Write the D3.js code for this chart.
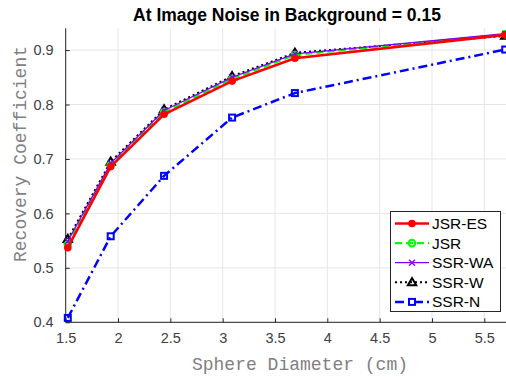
<!DOCTYPE html>
<html>
<head>
<meta charset="utf-8">
<script src="https://cdn.jsdelivr.net/npm/d3@7"></script>
<style>
  html, body { margin: 0; padding: 0; background: #fff; }
  svg { display: block; }
</style>
</head>
<body>
<svg id="chart" width="506" height="377"></svg>
<script>
// Sphere diameters (cm) and recovery coefficients per reconstruction method
const diameters = [1.52, 1.93, 2.44, 3.09, 3.69, 5.7];
const jsrEs = [0.537, 0.686, 0.782, 0.843, 0.885, 0.928];
const jsr   = [0.543, 0.689, 0.786, 0.847, 0.891, 0.929];
const ssrWa = [0.549, 0.692, 0.789, 0.850, 0.893, 0.930];
const ssrW  = [0.553, 0.695, 0.791, 0.852, 0.895, 0.926];
const ssrN  = [0.408, 0.558, 0.669, 0.776, 0.821, 0.901];
const xTicks = [1.5, 2, 2.5, 3, 3.5, 4, 4.5, 5, 5.5];
const yTicks = [0.4, 0.5, 0.6, 0.7, 0.8, 0.9];
const seriesNames = ["JSR-ES", "JSR", "SSR-WA", "SSR-W", "SSR-N"];

const series = [
  { name: "SSR-N",  values: ssrN,  color: "#0000ff", width: 2.5, dash: "9,4,2,4", marker: "square" },
  { name: "SSR-W",  values: ssrW,  color: "#000000", width: 2,   dash: "2,3",     marker: "triangle" },
  { name: "JSR",    values: jsr,   color: "#00ff00", width: 2.2, dash: "7,4",     marker: "circle" },
  { name: "SSR-WA", values: ssrWa, color: "#8000ff", width: 1.3, dash: null,      marker: "cross" },
  { name: "JSR-ES", values: jsrEs, color: "#ff0000", width: 2.6, dash: null,      marker: "dot" }
];

const svg = d3.select("#chart");
const plotLeft = 65.7, plotTop = 28.3, plotBottom = 322.3;

const x = d3.scaleLinear().domain([1.5, 5.5]).range([plotLeft, 484.3]);
const y = d3.scaleLinear().domain([0.4, 0.94]).range([plotBottom, plotTop]);

// grid
const grid = svg.append("g").attr("stroke", "#e6e6e6").attr("stroke-width", 1);
xTicks.forEach(t => grid.append("line").attr("x1", x(t)).attr("x2", x(t)).attr("y1", plotTop).attr("y2", plotBottom));
yTicks.forEach(t => grid.append("line").attr("x1", plotLeft).attr("x2", 506).attr("y1", y(t)).attr("y2", y(t)));

// axes with inward ticks
const xAxis = d3.axisBottom(x).tickValues(xTicks).tickSize(-4).tickPadding(10).tickFormat(d3.format("~g"));
const yAxis = d3.axisLeft(y).tickValues(yTicks).tickSize(-4).tickPadding(12).tickFormat(d3.format(".1f"));

const gx = svg.append("g").attr("transform", `translate(0,${plotBottom})`).call(xAxis);
gx.select(".domain").attr("d", `M${plotLeft},0H506`);
const gy = svg.append("g").attr("transform", `translate(${plotLeft},0)`).call(yAxis);
gy.select(".domain").attr("d", `M0,${plotTop}V${plotBottom}`);

[gx, gy].forEach(g => {
  g.selectAll(".domain").attr("stroke", "#262626").attr("stroke-width", 1);
  g.selectAll(".tick line").attr("stroke", "#262626");
  g.selectAll(".tick text").attr("fill", "#404040")
    .style("font-family", "'Liberation Sans', Arial, sans-serif").style("font-size", "14.5px");
});

const plot = svg.append("g");

function drawMarker(g, type, cx, cy, color) {
  if (type === "dot") {
    g.append("circle").attr("cx", cx).attr("cy", cy).attr("r", 3.8).attr("fill", color);
  } else if (type === "circle") {
    g.append("circle").attr("cx", cx).attr("cy", cy).attr("r", 3.3)
      .attr("fill", "none").attr("stroke", color).attr("stroke-width", 2);
  } else if (type === "cross") {
    const s = 3;
    g.append("path").attr("d", `M${cx - s},${cy - s}L${cx + s},${cy + s}M${cx - s},${cy + s}L${cx + s},${cy - s}`)
      .attr("stroke", color).attr("stroke-width", 1.3);
  } else if (type === "triangle") {
    const s = 4.2;
    g.append("path").attr("d", `M${cx},${cy - s}L${cx + s},${cy + s * 0.7}L${cx - s},${cy + s * 0.7}Z`)
      .attr("fill", "none").attr("stroke", color).attr("stroke-width", 2);
  } else if (type === "square") {
    const s = 3;
    g.append("rect").attr("x", cx - s).attr("y", cy - s).attr("width", 2 * s).attr("height", 2 * s)
      .attr("fill", "none").attr("stroke", color).attr("stroke-width", 2);
  }
}

const line = d3.line().x(d => x(d[0])).y(d => y(d[1]));

series.forEach(s => {
  const pts = diameters.map((d, i) => [d, s.values[i]]);
  const g = plot.append("g");
  g.append("path").attr("d", line(pts)).attr("fill", "none")
    .attr("stroke", s.color).attr("stroke-width", s.width)
    .attr("stroke-dasharray", s.dash).attr("stroke-linejoin", "round");
  pts.forEach(p => drawMarker(g, s.marker, x(p[0]), y(p[1]), s.color));
});

// title and axis labels
svg.append("text").attr("x", 287).attr("y", 21).attr("text-anchor", "middle")
  .style("font-family", "'Liberation Sans', Arial, sans-serif").style("font-size", "17.5px")
  .style("font-weight", "bold").attr("fill", "#000")
  .text("At Image Noise in Background = 0.15");

svg.append("text").attr("x", 300).attr("y", 370).attr("text-anchor", "middle")
  .style("font-family", "'Liberation Mono', 'Courier New', monospace").style("font-size", "18px")
  .attr("fill", "#808080").text("Sphere Diameter (cm)");

svg.append("text").attr("transform", "translate(26,154) rotate(-90)").attr("text-anchor", "middle")
  .style("font-family", "'Liberation Mono', 'Courier New', monospace").style("font-size", "18px")
  .attr("fill", "#808080").text("Recovery Coefficient");

// legend
const legend = svg.append("g");
legend.append("rect").attr("x", 390.5).attr("y", 211.5).attr("width", 110).attr("height", 100)
  .attr("fill", "#fff").attr("stroke", "#262626").attr("stroke-width", 1);
const legendOrder = seriesNames.map(n => series.find(s => s.name === n));
legendOrder.forEach((s, i) => {
  const cy = 223.5 + i * 19.6;
  const g = legend.append("g");
  g.append("line").attr("x1", 395).attr("x2", 429).attr("y1", cy).attr("y2", cy)
    .attr("stroke", s.color).attr("stroke-width", s.width).attr("stroke-dasharray", s.dash);
  drawMarker(g, s.marker, 412, cy, s.color);
  g.append("text").attr("x", 432).attr("y", cy + 5.5)
    .style("font-family", "'Liberation Sans', Arial, sans-serif").style("font-size", "15.5px")
    .attr("fill", "#000").text(s.name);
});
</script>
</body>
</html>
